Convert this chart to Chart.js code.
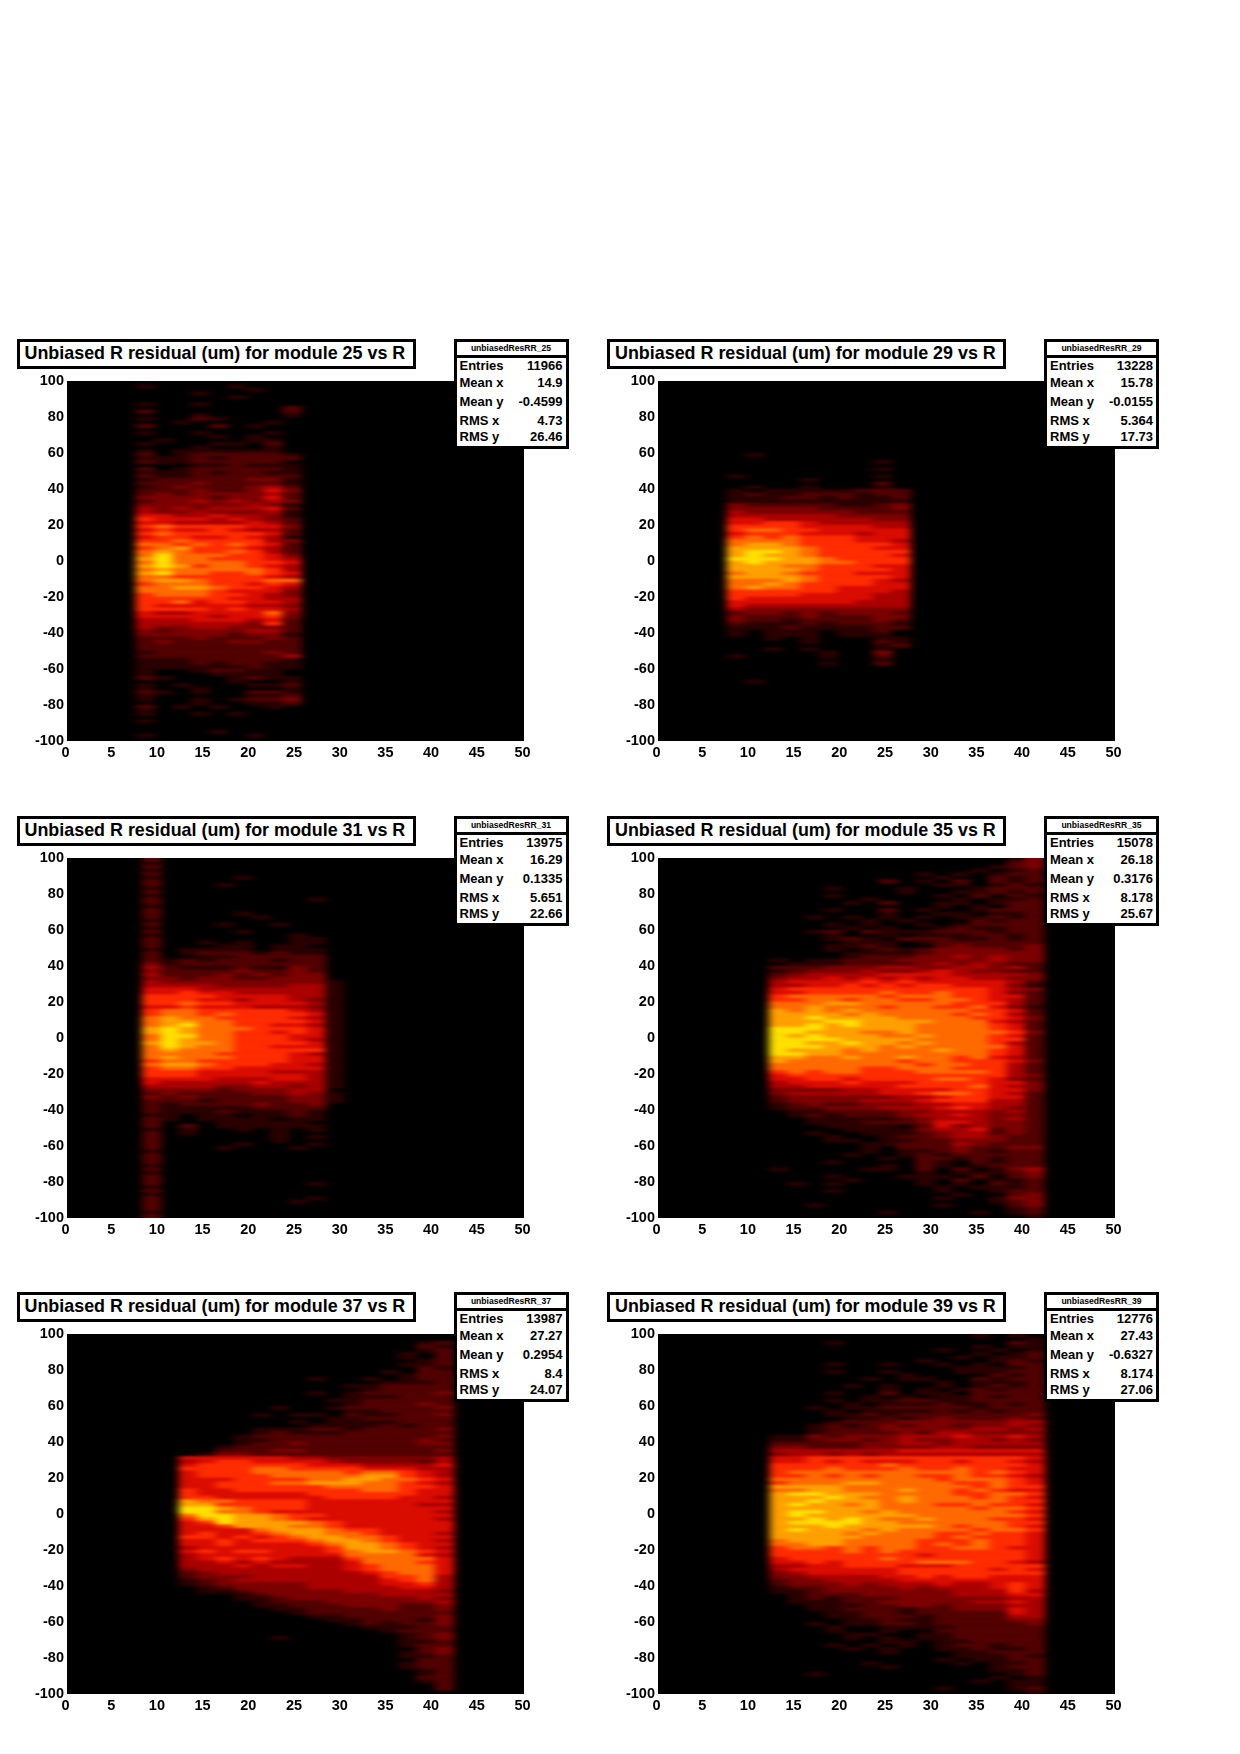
<!DOCTYPE html>
<html>
<head>
<meta charset="utf-8">
<title>Unbiased R residual vs R</title>
<script src="https://cdn.jsdelivr.net/npm/chart.js@4"></script>
<style>
  html, body { margin: 0; padding: 0; background: #fff; }
  #page { position: relative; width: 1240px; height: 1754px; overflow: hidden; font-family: "Liberation Sans", sans-serif; color: #000; }
  canvas { position: absolute; }
  .title-box { position: absolute; box-sizing: border-box; width: 399px; height: 30px; border: 3px solid #000; background: #fff; font-weight: bold; font-size: 17.9px; line-height: 23px; padding-left: 5px; white-space: nowrap; z-index: 2; }
  .stats-box { position: absolute; box-sizing: border-box; width: 115px; height: 110px; border: 3px solid #000; background: #fff; font-size: 13px; font-weight: bold; z-index: 2; }
  .stats-name { height: 13px; line-height: 13px; font-size: 8.6px; text-align: center; border-bottom: 3px solid #000; }
  .stats-row { position: absolute; left: 3px; right: 3px; height: 16px; line-height: 16px; display: flex; justify-content: space-between; }
</style>
</head>
<body>
<div id="page">
  <svg width="0" height="0" style="position:absolute">
    <filter id="smear" x="0" y="0" width="100%" height="100%" color-interpolation-filters="sRGB">
      <feGaussianBlur stdDeviation="4 0.9"/>
    </filter>
  </svg>
</div>
<script>
const xTicks = [0, 5, 10, 15, 20, 25, 30, 35, 40, 45, 50];
const yTicks = [-100, -80, -60, -40, -20, 0, 20, 40, 60, 80, 100];

const moduleIds = [25, 29, 31, 35, 37, 39];
const entries = ["11966", "13228", "13975", "15078", "13987", "12776"];
const meanX = ["14.9", "15.78", "16.29", "26.18", "27.27", "27.43"];
const meanY = ["-0.4599", "-0.0155", "0.1335", "0.3176", "0.2954", "-0.6327"];
const rmsX = ["4.73", "5.364", "5.651", "8.178", "8.4", "8.174"];
const rmsY = ["26.46", "17.73", "22.66", "25.67", "24.07", "27.06"];

// left edge of the first filled column in each panel, columns are 2 wide
const xStarts = [7.6, 7.6, 8.3, 12.2, 12.3, 12.3];

// density, 0 (black) to 9 (yellow)
// rows run from y=100 at the top to y=-100, 2 units each
const module25Rows = [
  "000000000","100001000","000000100","000100000","000001000","000000000","100100000","000000002","200000002","000100001",
  "100210000","001000010","200020100","000000000","100100010","000010100","010000110","100011020","000100010","101111110",
  "201222221","111212222","211222220","000112111","201222221","111212211","211222222","122222331","222322221","123222342",
  "222322353","232333342","333323352","233434343","333333431","434344452","433433341","554454431","655545432","554444542",
  "676666553","565565442","676666652","566556541","667666643","776767652","678666542","787667642","797776653","897766654",
  "797777665","898677654","787777764","897766765","776666654","788766677","677766565","778876654","777765553","677766543",
  "666665544","667566554","655555443","666656554","544555573","555545563","444555452","444444362","433443332","323333442",
  "333332331","222322232","232223322","222222222","222222222","122222232","222222224","111222221","111212211","111111211",
  "100122110","100011110","210001211","000001001","101000112","100100001","210100221","100000112","100101223","000100112",
  "201010010","100000000","100101000","000000000","100000000","000000000","000000000","000010000","100000100","000000000"
];
const module29Rows = [
  "0000000000","0000000000","0000000000","0000000000","0000000000","0000000000","0000000000","0000000000","0000000000","0000000000",
  "0000000000","0000000000","0000000000","0000000000","0000000000","0000000000","0000000000","0000000000","0000000000","0000000000",
  "0100000000","0000000000","0000000010","0000000000","0000000010","0000000000","1000000010","0000100000","0000000020","0100100010",
  "1011111222","1211222122","1112212112","1111111111","3222221123","3333322223","4333333222","4444443333","5544444433","5566544444",
  "6666555544","6776655555","5666555455","6767666555","7777666554","7887666665","8888766655","8998766666","8988766665","9998876666",
  "8988877666","8887766655","8888766665","7887666555","8888766665","7778766654","7787666655","7877665555","6666665554","6666555544",
  "6555555544","5555555444","5444444444","4333333333","2332323332","3222322233","3221222232","2111212221","1112111122","1011101120",
  "1011101110","0010100011","0000100021","0000000012","0010100010","0000010030","1000010020","0000000010","0000010020","0000000000",
  "0000000000","0000000000","0000000000","0100000000","0000000000","0000000000","0000000000","0000000000","0000000000","0000000000",
  "0000000000","0000000000","0000000000","0000000000","0000000000","0000000000","0000000000","0000000000","0000000000","0000000000"
];
const module31Rows = [
  "20000000000","10000000000","20000000000","10000000000","20000000000","10000100000","20000000000","20001000000","10000000000","20000000000",
  "10000000000","20000000010","20000000000","10000000000","20000000000","20000100000","20000010000","10000000000","20001001000","10000000000",
  "20000100000","10000000100","20000000110","20010100110","20001101100","10111101110","20122212110","20011222220","21212221220","31222222220",
  "42111211320","32222322320","42223232330","33233223330","43333333331","44443333441","55544444441","55655444441","66665555441","66655455431",
  "66766555541","55655544431","67766666541","67767666651","78776666541","78877666651","78977665541","89877766651","89877665651","79977666551",
  "79877666541","89887666651","79877665551","78777666661","77776666541","78777666551","67766666551","78876665541","67766555551","66655554441",
  "66655555541","55554445541","54444454441","44443344341","33332333440","23222233431","32322222331","22212222331","21222232230","21111122220",
  "21112111210","11011011210","21011110110","20001111100","20201111110","10100101010","20100001000","20000001010","20000001000","20000100010",
  "20001000100","10000000000","20000000000","20000000000","20000000000","10000000000","20000000000","10000000000","20000000000","20000000000",
  "20000000010","10000000000","20000000000","10000000000","20000000010","20000000100","20000000000","20000000000","10000000000","20000000000"
];
const module35Rows = [
  "000000000000013","000000000000023","000000000000123","000000000001012","000000001010122","000000000100212","000000201020212","000000000110121","000100010001222","000000010011212",
  "000100000102021","000001000010112","000010200110122","000000000101022","000100201001222","000000100110112","001010101011212","000001010002122","000101001012222","000010100121122",
  "001202111222122","000100101112212","000121022211212","000011101222222","000112100232223","000101212333323","000011112333333","000012223343433","101122233333433","011122223434322",
  "222333443344342","123334334543322","234444555544443","344545454554433","455556565555542","445565656655531","566666666666543","556666766766532","677777677766552","667767766776542",
  "777887777766642","778777677667531","878787777776652","888878777767642","889888877776653","888998888777542","889898887777652","999888887777652","998887787777763","989888778777652",
  "999988887777662","998898878777642","999888787777752","988878777877652","998877777777652","887787787767542","877777767766653","777777776776642","777776677766642","676776667777642",
  "566666666666643","556656666776532","455565556666553","445555566667543","333344555566553","344444556776542","233333344566552","233334445666442","123223334455442","122333444565432",
  "011222233444342","012122234454332","001111123444342","001112223554332","000111102534332","000011113445232","001001112344232","000100122344322","000110112233322","000001122243222",
  "000001022232233","000001011232122","000010012122222","000000102212122","000100002102122","000000102101222","100001102020134","000000001011123","000100011102023","000010001020112",
  "010100001010212","000000000101112","000100000100122","000000000010023","000000000100133","000000000000123","001000000100023","000000000000012","000000100001012","000000000000001"
];
const module37Rows = [
  "000000000000000","000000000000000","000000000000012","000000000000021","000000000000012","000000000000102","000000000000102","000000000000012","000000000000112","000000000000021",
  "000000000001022","000000000000122","000000010010122","000000000001112","000000000112222","000000000012222","000000010122223","000000000111222","000000001122222","000000000122232",
  "000001001222223","000000000112222","000010110211223","000000001122222","000000101111222","000000011112122","000011122122223","000012111222222","000122222222223","000112222222232",
  "000122322222233","001222222222222","002223322222223","013322222222222","555555443333334","456655554333324","566666655544445","666677666655544","566677777677654","566667777788654",
  "555666677887765","556667788877654","556666667777665","655666666677655","655555566666655","665555556666554","877666655555555","886666655555544","998766655555555","997765555555554",
  "799887665555555","689887655555554","569888876555555","556888776555555","555578887665555","565567887765554","665656788776555","556566678876554","556555567887655","455555556887654",
  "565665556788765","455555555777754","456565444677775","445454444577765","444545544567775","344444444567775","234444444456775","233344444446674","123444444445674","123333344445564",
  "012333344444554","011233333444443","000123333334444","000112333333343","000012223333334","000011222333223","000001122223223","000000122222222","000000011222223","000000001122213",
  "000000000121223","000000000011122","000000000001222","000000000000123","000001000000123","000000000000112","000000000000122","000000000000023","000000000000123","000000000000112",
  "000000000000022","000000000000122","000000000000122","000000000000012","000000000000012","000000000000022","000000000000012","000000000000002","000000000000002","000000000000000"
];
const module39Rows = [
  "000000000001010","000000000000001","000100000000021","000000000001011","000000000100101","000000000001012","000000000010112","000000001000121","000100100101022","000000000011112",
  "000100100011122","000000010000212","000001011002122","000000000101112","000010100101212","000000101012122","000100201102222","000001010112122","000101122112222","000010111211212",
  "001011222221222","000101111212122","000112122222223","000011212322232","000122233333344","001212323323343","001222333334434","001222232443333","113233344454454","112332343344343",
  "222223344344444","332223333443333","444444455555555","344343444444444","556666666666665","556565556656654","666666766666665","666766676676655","677777777776765","667676776676654",
  "777777777677765","677788777766765","888877777776766","778877787767655","899888777766776","888987787776765","889888787777766","898878777667665","888888777776776","899887877777765",
  "898888887777776","889898778777665","899998877777766","888988888767765","898887877776776","888878777667665","888887777676665","788877776667665","778877776767665","677676776677655",
  "666676766666665","666666665666665","566666766666665","556566667776654","445566655566666","455555566666565","345555566666666","334444556566555","233444455555555","233343444544565",
  "122333343444565","112333333344464","012223333344455","012122233333344","011122333334454","001112233233344","001122212233354","000112212222254","000112221222244","000011211222233",
  "001011221222223","000100111122222","000100100222222","000011001122222","000010101122222","000000110112222","000101010122122","000010100112112","000000100011222","000000000011121",
  "000000000101122","000001000010112","000000100000122","000000000000112","001000000000012","000000000000101","000000000001011","000000000000011","000000000100012","000000000000001"
];
const panelRows = [module25Rows, module29Rows, module31Rows, module35Rows, module37Rows, module39Rows];

const heatColours = ["#000000", "#2a0000", "#520000", "#7c0000", "#aa0000", "#da0c00", "#ff2c00", "#ff6a00", "#ffa000", "#ffe000"];

const colLefts = [67, 657.5];
const rowTops = [381, 858, 1334];
const plotWidth = 457;
const plotHeight = 360;
const yAxisWidth = 60;
const xAxisHeight = 24;
const statTops = [16, 33, 52, 71, 87];

const page = document.getElementById("page");

const makeCells = (rows, xStart) => {
  let cells = [];
  rows.forEach((row, i) => {
    row.split("").forEach((digit, j) => {
      if (digit === "0") return;
      cells.push({ x: xStart + 2 * j + 1, y: [98 - 2 * i, 100 - 2 * i], z: Number(digit) });
    });
  });
  return cells;
};

const blackPlot = {
  id: "blackPlot",
  beforeDatasetsDraw(chart) {
    const a = chart.chartArea;
    chart.ctx.save();
    chart.ctx.fillStyle = "#000";
    chart.ctx.fillRect(a.left, a.top, a.width, a.height);
    chart.ctx.restore();
  },
  afterDatasetsDraw(chart) {
    // soften the cells into streaks, the original was drawn with interpolation
    const a = chart.chartArea;
    const ctx = chart.ctx;
    ctx.save();
    ctx.beginPath();
    ctx.rect(a.left, a.top, a.width, a.height);
    ctx.clip();
    ctx.filter = "url(#smear)";
    ctx.drawImage(chart.canvas, a.left, a.top, a.width, a.height, a.left, a.top, a.width, a.height);
    ctx.restore();
  }
};

const addTitle = (n, left, top) => {
  let box = document.createElement("div");
  box.className = "title-box";
  box.style.left = left - 50.5 + "px";
  box.style.top = top - 42 + "px";
  box.innerText = "Unbiased R residual (um) for module " + moduleIds[n] + " vs R";
  page.appendChild(box);
};

const addStats = (n, left, top) => {
  let box = document.createElement("div");
  box.className = "stats-box";
  box.style.left = left + 386.5 + "px";
  box.style.top = top - 42 + "px";
  let name = document.createElement("div");
  name.className = "stats-name";
  name.innerText = "unbiasedResRR_" + moduleIds[n];
  box.appendChild(name);
  let labels = ["Entries", "Mean x", "Mean y", "RMS x", "RMS y"];
  let values = [entries[n], meanX[n], meanY[n], rmsX[n], rmsY[n]];
  labels.forEach((label, i) => {
    let row = document.createElement("div");
    row.className = "stats-row";
    row.style.top = statTops[i] + "px";
    row.innerHTML = `<span>${label}</span><span>${values[i]}</span>`;
    box.appendChild(row);
  });
  page.appendChild(box);
};

const addPanel = (n, left, top) => {
  let canvas = document.createElement("canvas");
  canvas.width = yAxisWidth + plotWidth + 20;
  canvas.height = 10 + plotHeight + xAxisHeight;
  canvas.style.left = left - yAxisWidth + "px";
  canvas.style.top = top - 10 + "px";
  canvas.style.width = canvas.width + "px";
  canvas.style.height = canvas.height + "px";
  page.appendChild(canvas);

  new Chart(canvas.getContext("2d"), {
    type: "bar",
    data: {
      datasets: [{
        data: makeCells(panelRows[n], xStarts[n]),
        backgroundColor: (c) => heatColours[c.raw ? c.raw.z : 0],
        borderWidth: 0,
        barThickness: 19,
        grouped: false
      }]
    },
    options: {
      responsive: false,
      animation: false,
      events: [],
      layout: { padding: { top: 10, right: 20, left: 0, bottom: 0 } },
      plugins: { legend: { display: false }, tooltip: { enabled: false } },
      scales: {
        x: {
          type: "linear",
          min: 0,
          max: 50,
          offset: false,
          afterFit: (scale) => { scale.height = xAxisHeight; },
          afterBuildTicks: (scale) => { scale.ticks = xTicks.map((v) => ({ value: v })); },
          grid: { display: false },
          border: { display: false },
          ticks: {
            autoSkip: false,
            maxRotation: 0,
            padding: -5,
            labelOffset: -1.5,
            color: "#000",
            font: { family: "Liberation Sans", size: 14.5, weight: "bold" }
          }
        },
        y: {
          type: "linear",
          min: -100,
          max: 100,
          afterFit: (scale) => { scale.width = yAxisWidth; },
          afterBuildTicks: (scale) => { scale.ticks = yTicks.map((v) => ({ value: v })); },
          grid: { display: false },
          border: { display: false },
          ticks: {
            autoSkip: false,
            padding: -5,
            color: "#000",
            font: { family: "Liberation Sans", size: 14.5, weight: "bold" }
          }
        }
      }
    },
    plugins: [blackPlot]
  });

  addTitle(n, left, top);
  addStats(n, left, top);
};

rowTops.forEach((top, r) => {
  colLefts.forEach((left, c) => {
    addPanel(r * 2 + c, left, top);
  });
});
</script>
</body>
</html>
